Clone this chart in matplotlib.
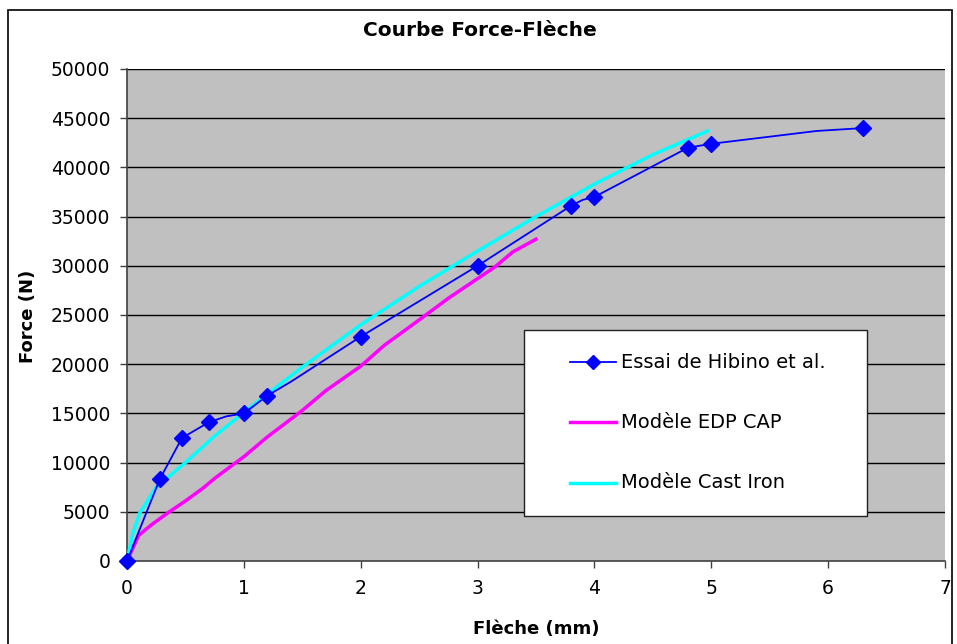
import matplotlib
matplotlib.use("Agg")
import matplotlib.pyplot as plt
from matplotlib.patches import Rectangle
from matplotlib.lines import Line2D

plt.rcParams['font.family'] = ['DejaVu Sans']

# Data
essai_x = [0, 0.28, 0.47, 0.7, 0.85, 1.0, 1.2, 1.4, 2.0, 3.0, 3.8, 3.9, 4.0, 4.8, 5.0, 5.9, 6.3]
essai_y = [0, 8300, 12500, 14100, 14700, 15000, 16800, 18200, 22800, 30000, 36100, 36700, 37000, 42000, 42400, 43700, 44000]
essai_mx = [0, 0.28, 0.47, 0.7, 1.0, 1.2, 2.0, 3.0, 3.8, 4.0, 4.8, 5.0, 6.3]
essai_my = [0, 8300, 12500, 14100, 15000, 16800, 22800, 30000, 36100, 37000, 42000, 42400, 44000]

edp_x = [0, 0.1, 0.2, 0.35, 0.5, 0.65, 0.75, 1.0, 1.2, 1.5, 1.7, 2.0, 2.2, 2.5, 2.75, 3.0, 3.15, 3.3, 3.5]
edp_y = [0, 2600, 3600, 4900, 6100, 7400, 8400, 10600, 12600, 15300, 17300, 19800, 21900, 24500, 26700, 28700, 29900, 31400, 32700]

cast_x = [0, 0.05, 0.11, 0.25, 0.5, 0.75, 1.0, 1.5, 2.0, 2.5, 3.0, 3.5, 4.0, 4.5, 4.97]
cast_y = [0, 2800, 4900, 7500, 10000, 12700, 15100, 19700, 24000, 27900, 31500, 35000, 38300, 41300, 43700]

labels = ["Essai de Hibino et al.", "Modèle EDP CAP", "Modèle Cast Iron"]
x_ticks = [0, 1, 2, 3, 4, 5, 6, 7]
y_ticks = list(range(0, 50001, 5000))

W, H = 957, 644
fig = plt.figure(figsize=(W / 100, H / 100), dpi=100)
ax = fig.add_axes([127 / W, 1 - 561 / H, (945 - 127) / W, (561 - 69) / H])
ax.set_facecolor('#C0C0C0')

def fx(px):
    return px / W

def fy(py):
    return 1 - py / H

# outer chart frame
fig.patches.append(Rectangle((fx(8), -0.05), fx(952) - fx(8), fy(10) + 0.05,
                             transform=fig.transFigure, fill=False,
                             edgecolor='black', linewidth=1.2, zorder=0))

for yv in y_ticks[1:]:
    ax.axhline(yv, color='black', linewidth=1.0, zorder=1)

ax.plot(edp_x, edp_y, color='#FF00FF', linewidth=2.5, zorder=3)
ax.plot(cast_x, cast_y, color='#00FFFF', linewidth=2.5, zorder=4)
ax.plot(essai_x, essai_y, color='#0000FF', linewidth=1.3, zorder=5)
ax.plot(essai_mx, essai_my, linestyle='none', marker='D', markersize=8,
        color='#0000FF', zorder=6, clip_on=False)

ax.set_xlim(0, 7)
ax.set_ylim(0, 50000)
ax.set_xticks(x_ticks)
ax.set_yticks(y_ticks)
ax.tick_params(axis='both', labelsize=13.5, direction='out', length=5, width=1, color='#404040')
ax.tick_params(axis='x', pad=8)
ax.tick_params(axis='y', pad=7)
for s in ['top', 'right']:
    ax.spines[s].set_visible(False)
for s in ['left', 'bottom']:
    ax.spines[s].set_color('#404040')
    ax.spines[s].set_linewidth(1.2)

fig.text(fx(480), fy(31), "Courbe Force-Flèche", ha='center', va='center',
         fontsize=14.5, fontweight='bold')
fig.text(fx(536), fy(629), "Flèche (mm)", ha='center', va='center',
         fontsize=13, fontweight='bold')
fig.text(fx(28), fy(316), "Force (N)", ha='center', va='center',
         fontsize=13, fontweight='bold', rotation=90)

# legend (drawn manually to match Excel layout)
fig.patches.append(Rectangle((fx(524), fy(516)), fx(867) - fx(524), fy(330) - fy(516),
                             transform=fig.transFigure, facecolor='white',
                             edgecolor='#202020', linewidth=1.0, zorder=10))
styles = [
    dict(color='#0000FF', linewidth=1.3),
    dict(color='#FF00FF', linewidth=2.5),
    dict(color='#00FFFF', linewidth=2.5),
]
rows = [362, 422, 483]
for lab, st, ry in zip(labels, styles, rows):
    fig.lines.append(Line2D([fx(570), fx(616)], [fy(ry), fy(ry)], transform=fig.transFigure,
                            zorder=11, **st))
    fig.text(fx(621), fy(ry), lab, ha='left', va='center', fontsize=14, zorder=12)
fig.lines.append(Line2D([fx(593)], [fy(rows[0])], transform=fig.transFigure, marker='D',
                        markersize=7, color='#0000FF', linestyle='none', zorder=12))

fig.savefig("out.png", dpi=100)
